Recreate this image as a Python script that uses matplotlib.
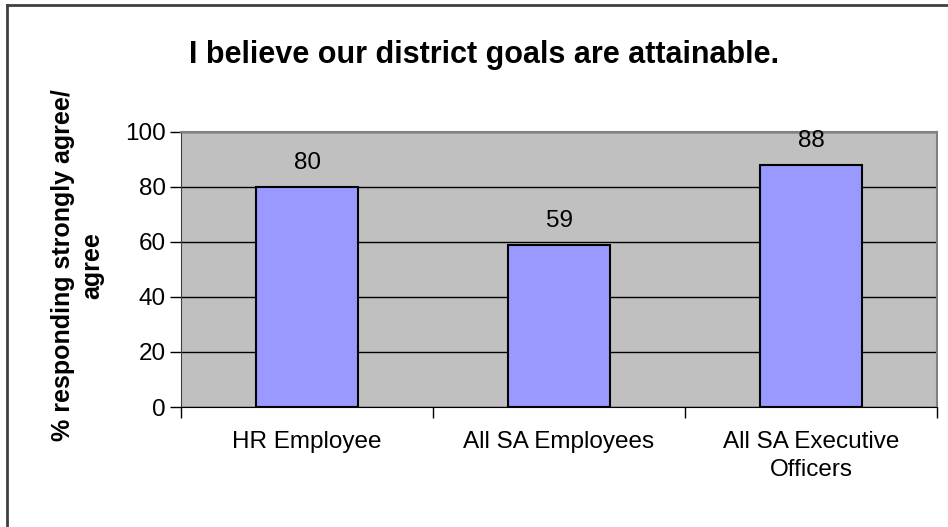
import numpy as np
import matplotlib.pyplot as plt
from matplotlib.lines import Line2D

categories = ['HR Employee', 'All SA Employees', 'All SA Executive\nOfficers']
pct_agree = [80, 59, 88]
yticks = [0, 20, 40, 60, 80, 100]

plt.rcParams['font.family'] = ['Liberation Sans', 'DejaVu Sans']

fig = plt.figure(figsize=(9.48, 5.27), dpi=100)
ax = fig.add_axes([0.191, 0.2277, 0.7974, 0.5223])

x = np.arange(len(categories))
ax.set_facecolor('#C0C0C0')
ax.bar(x, pct_agree, width=0.405, color='#9999FF', edgecolor='black',
       linewidth=1.5, zorder=3)
for xi, v in zip(x, pct_agree):
    ax.annotate(str(v), (xi, v), xytext=(0, 9), textcoords='offset points',
                ha='center', va='bottom', fontsize=17.5, zorder=4)

ax.set_xlim(-0.5, len(categories) - 0.5)
ax.set_ylim(0, 100)
ax.set_yticks(yticks)
ax.yaxis.grid(True, color='black', linewidth=1, zorder=1)
ax.tick_params(axis='y', direction='out', length=8, width=1, labelsize=17.5, pad=3)

# category labels sit between the boundary ticks
ax.set_xticks(x)
ax.set_xticklabels(categories, fontsize=17.5, linespacing=1.4)
ax.tick_params(axis='x', length=0, pad=17)
ax.set_xticks(np.arange(len(categories) + 1) - 0.5, minor=True)
ax.tick_params(axis='x', which='minor', direction='out', length=8, width=1)

for side in ['top', 'right']:
    ax.spines[side].set_color('#808080')
    ax.spines[side].set_linewidth(1.5)
ax.spines['left'].set_color('#404040')
ax.spines['bottom'].set_color('black')

fig.text(0.082, 0.497, '% responding strongly agree/\nagree', rotation=90,
         ha='center', va='center', multialignment='center', fontsize=18,
         fontweight='bold', linespacing=1.3)

fig.text(0.511, 0.895, 'I believe our district goals are attainable.',
         ha='center', va='center', fontsize=22, fontweight='bold')

# chart border along the top and left edges
fig.add_artist(Line2D([0.0074, 0.0074], [0, 0.990], transform=fig.transFigure,
                      color='#404040', linewidth=2))
fig.add_artist(Line2D([0.0074, 1.0], [0.990, 0.990], transform=fig.transFigure,
                      color='#404040', linewidth=2))

fig.savefig('out.png', dpi=100)
